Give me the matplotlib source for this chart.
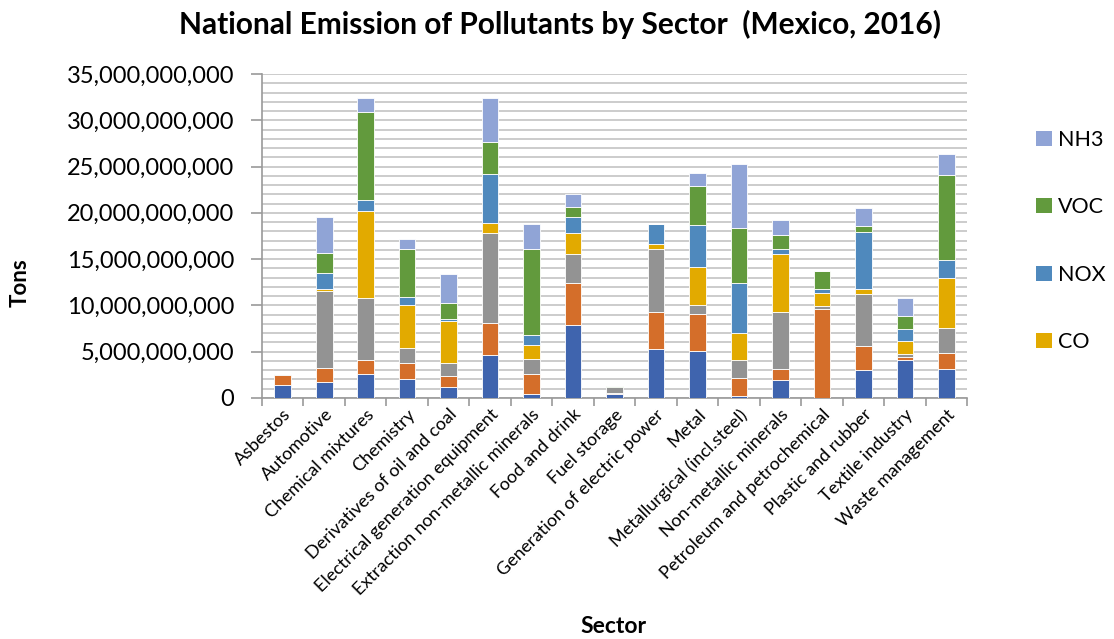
import matplotlib
matplotlib.use("Agg")
import matplotlib.pyplot as plt
from matplotlib.patches import Patch
from matplotlib.ticker import FuncFormatter, MultipleLocator
import numpy as np

plt.rcParams['font.family'] = ['Lato', 'DejaVu Sans']

sectors = [
    "Asbestos", "Automotive", "Chemical mixtures", "Chemistry",
    "Derivatives of oil and coal", "Electrical generation equipment",
    "Extraction non-metallic minerals", "Food and drink", "Fuel storage",
    "Generation of electric power", "Metal", "Metallurgical (incl.steel)",
    "Non-metallic minerals", "Petroleum and petrochemical",
    "Plastic and rubber", "Textile industry", "Waste management",
]

# billions of tons
pm10 = [1.45, 1.76, 2.56, 2.05, 1.22, 4.61, 0.40, 7.85, 0.40, 5.26, 5.11, 0.25, 1.91, 0.05, 3.06, 4.14, 3.17]
pm25 = [1.00, 1.44, 1.51, 1.69, 1.16, 3.53, 2.16, 4.54, 0.18, 4.00, 3.93, 1.88, 1.26, 9.53, 2.52, 0.25, 1.73]
so2  = [0.10, 8.36, 6.70, 1.66, 1.36, 9.65, 1.62, 3.17, 0.64, 6.80, 1.04, 2.01, 6.09, 0.39, 5.69, 0.33, 2.70]
co   = [0.00, 0.18, 9.46, 4.65, 4.58, 1.11, 1.58, 2.23, 0.00, 0.61, 4.04, 2.85, 6.30, 1.34, 0.51, 1.47, 5.33]
nox  = [0.00, 1.73, 1.12, 0.86, 0.21, 5.27, 1.08, 1.76, 0.00, 2.09, 4.60, 5.43, 0.50, 0.50, 6.19, 1.23, 2.01]
voc  = [0.02, 2.23, 9.58, 5.15, 1.70, 3.45, 9.29, 1.05, 0.11, 0.04, 4.22, 5.98, 1.51, 1.88, 0.65, 1.41, 9.19]
nh3  = [0.00, 3.82, 1.44, 1.08, 3.13, 4.75, 2.63, 1.44, 0.00, 0.00, 1.33, 6.88, 1.62, 0.06, 1.94, 1.94, 2.26]

series = [
    ("PM10", pm10, "#3F64AE"),
    ("PM2.5", pm25, "#D46E2A"),
    ("SO2", so2, "#939393"),
    ("CO", co, "#E2AA00"),
    ("NOX", nox, "#4F89BD"),
    ("VOC", voc, "#629A3D"),
    ("NH3", nh3, "#90A4D6"),
]
legend_names = ["NH3", "VOC", "NOX", "CO"]

fig = plt.figure(figsize=(11.14, 6.39), dpi=100)
ax = fig.add_axes((0.2352, 0.3772, 0.633, 0.507))

x = np.arange(len(sectors))
bottom = np.zeros(len(sectors))
colors = {}
for name, vals, col in series:
    v = np.array(vals) * 1e9
    ax.bar(x, v, 0.4, bottom=bottom, color=col, edgecolor="white", linewidth=0.6, zorder=3)
    bottom += v
    colors[name] = col

ax.set_xlim(-0.5, len(sectors) - 0.5)
ax.set_ylim(0, 35e9)
ax.yaxis.set_major_locator(MultipleLocator(5e9))
ax.yaxis.set_minor_locator(MultipleLocator(1e9))
ax.yaxis.set_major_formatter(FuncFormatter(lambda v, p: f"{int(round(v)):,}"))
ax.grid(axis="y", which="both", color="#C8C8C8", linewidth=1.3, zorder=0)
ax.tick_params(axis="y", which="major", labelsize=17, length=8, color="#9A9A9A", width=1.2, pad=12)
ax.tick_params(axis="y", which="minor", length=0)

ax.set_xticks(x)
ax.set_xticklabels(sectors, rotation=45, ha="right", rotation_mode="anchor", fontsize=13)
ax.tick_params(axis="x", which="major", length=0, pad=6)
ax.set_xticks(np.arange(-0.5, len(sectors)), minor=True)
ax.tick_params(axis="x", which="minor", length=6, color="#9A9A9A", width=1.2)

for s in ["top", "right"]:
    ax.spines[s].set_visible(False)
for s in ["left", "bottom"]:
    ax.spines[s].set_color("#9A9A9A")
    ax.spines[s].set_linewidth(1.2)

fig.text(0.503, 0.962, "National Emission of Pollutants by Sector  (Mexico, 2016)",
         ha="center", va="center", fontsize=21.5, fontweight="bold")
fig.text(0.018, 0.558, "Tons", rotation=90, ha="center", va="center",
         fontsize=16, fontweight="bold")
fig.text(0.551, 0.02, "Sector", ha="center", va="center", fontsize=16.5, fontweight="bold")

handles = [Patch(facecolor=colors[n], edgecolor="none") for n in legend_names]
fig.legend(handles, legend_names, loc="center left", bbox_to_anchor=(0.913, 0.623),
           frameon=False, fontsize=15.5, handlelength=0.7, handleheight=0.7,
           handletextpad=0.3, labelspacing=2.2)

fig.savefig("out.png", dpi=100)
